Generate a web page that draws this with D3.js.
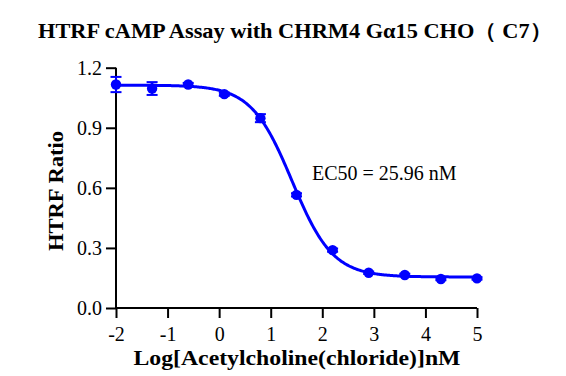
<!DOCTYPE html>
<html>
<head>
<meta charset="utf-8">
<script src="https://cdn.jsdelivr.net/npm/d3@7"></script>
<style>
  body { margin: 0; background: #fff; }
  text { font-family: "Liberation Serif", "Times New Roman", serif; }
</style>
</head>
<body>
<div id="chart"></div>
<script>
        // Data
        var logDose = [-2, -1.3, -0.6, 0.1, 0.8, 1.5, 2.2, 2.9, 3.6, 4.3, 5];
        var ratio = [1.116, 1.096, 1.116, 1.068, 0.948, 0.565, 0.289, 0.176, 0.165, 0.145, 0.148];
        var errorBar = [0.038, 0.032, 0.008, 0.008, 0.02, 0.008, 0.008, 0.006, 0.006, 0.006, 0.006];
        var xTicks = [-2, -1, 0, 1, 2, 3, 4, 5];
        var yTicks = [0, 0.3, 0.6, 0.9, 1.2];

        // Fitted 4PL curve (from the plot)
        var fitTop = 1.113, fitBottom = 0.155, logEC50 = Math.log10(25.96), hill = 1.1;

        var width = 566, height = 376;

        var svg = d3.select("#chart")
            .append("svg")
            .attr("width", width)
            .attr("height", height);

        // Scales
        var xScale = d3.scaleLinear()
            .domain([-2, 5])
            .range([116, 477]);

        var yScale = d3.scaleLinear()
            .domain([0, 1.2])
            .range([308, 67.7]);

        // Y-axis
        var yAxis = svg.append("g")
            .attr("transform", "translate(116,0)")
            .call(d3.axisLeft(yScale).tickValues(yTicks).tickSize(10).tickPadding(4)
                .tickFormat(d3.format(".1f")));

        // X-axis
        var xAxis = svg.append("g")
            .attr("transform", "translate(0,308)")
            .call(d3.axisBottom(xScale).tickValues(xTicks).tickSize(10).tickPadding(9)
                .tickFormat(function (d) { return d; }));

        [yAxis, xAxis].forEach(function (ax) {
            ax.select(".domain").attr("stroke", "#000").attr("stroke-width", 2);
            ax.selectAll(".tick line").attr("stroke", "#000").attr("stroke-width", 2);
            ax.selectAll(".tick text")
                .attr("fill", "#000")
                .style("font-family", "'Liberation Serif', serif")
                .style("font-size", "20px");
        });
        // remove outer tick part of domain path
        yAxis.select(".domain").attr("d", "M0," + yScale(1.2) + "V" + yScale(0));
        xAxis.select(".domain").attr("d", "M" + xScale(-2) + ",0H" + xScale(5));

        // Fitted curve
        var curveX = d3.range(-2, 5.001, 0.02);
        var line = d3.line()
            .x(function (d) { return xScale(d); })
            .y(function (d) { return yScale(fitBottom + (fitTop - fitBottom) / (1 + Math.pow(10, (d - logEC50) * hill))); });

        svg.append("path")
            .datum(curveX)
            .attr("d", line)
            .attr("fill", "none")
            .attr("stroke", "#0000FF")
            .attr("stroke-width", 3);

        // Error bars
        var points = logDose.map(function (d, i) { return { x: d, y: ratio[i], e: errorBar[i] }; });

        var eb = svg.selectAll(".eb")
            .data(points)
            .enter()
            .append("g")
            .attr("stroke", "#0000FF")
            .attr("stroke-width", 2);

        eb.append("line")
            .attr("x1", function (d) { return xScale(d.x); })
            .attr("x2", function (d) { return xScale(d.x); })
            .attr("y1", function (d) { return yScale(d.y + d.e); })
            .attr("y2", function (d) { return yScale(d.y - d.e); });
        eb.append("line")
            .attr("x1", function (d) { return xScale(d.x) - 5.5; })
            .attr("x2", function (d) { return xScale(d.x) + 5.5; })
            .attr("y1", function (d) { return yScale(d.y + d.e); })
            .attr("y2", function (d) { return yScale(d.y + d.e); });
        eb.append("line")
            .attr("x1", function (d) { return xScale(d.x) - 5.5; })
            .attr("x2", function (d) { return xScale(d.x) + 5.5; })
            .attr("y1", function (d) { return yScale(d.y - d.e); })
            .attr("y2", function (d) { return yScale(d.y - d.e); });

        // Dots
        svg.selectAll(".dot")
            .data(points)
            .enter()
            .append("circle")
            .attr("cx", function (d) { return xScale(d.x); })
            .attr("cy", function (d) { return yScale(d.y); })
            .attr("r", 5.2)
            .attr("fill", "#0000FF");

        // Title
        svg.append("text")
            .attr("x", 295)
            .attr("y", 38)
            .attr("text-anchor", "middle")
            .attr("textLength", 514)
            .attr("lengthAdjust", "spacingAndGlyphs")
            .style("font-size", "21px")
            .style("font-weight", "bold")
            .text("HTRF cAMP Assay with CHRM4 Gα15 CHO（ C7）");

        // Axis titles
        svg.append("text")
            .attr("x", 297)
            .attr("y", 365)
            .attr("text-anchor", "middle")
            .attr("textLength", 327)
            .attr("lengthAdjust", "spacingAndGlyphs")
            .style("font-size", "21px")
            .style("font-weight", "bold")
            .text("Log[Acetylcholine(chloride)]nM");

        svg.append("text")
            .attr("transform", "translate(63,191) rotate(-90)")
            .attr("text-anchor", "middle")
            .attr("textLength", 120)
            .attr("lengthAdjust", "spacingAndGlyphs")
            .style("font-size", "21px")
            .style("font-weight", "bold")
            .text("HTRF Ratio");

        // EC50 annotation
        svg.append("text")
            .attr("x", 312)
            .attr("y", 180)
            .style("font-size", "20px")
            .text("EC50 = 25.96 nM");
</script>
</body>
</html>
